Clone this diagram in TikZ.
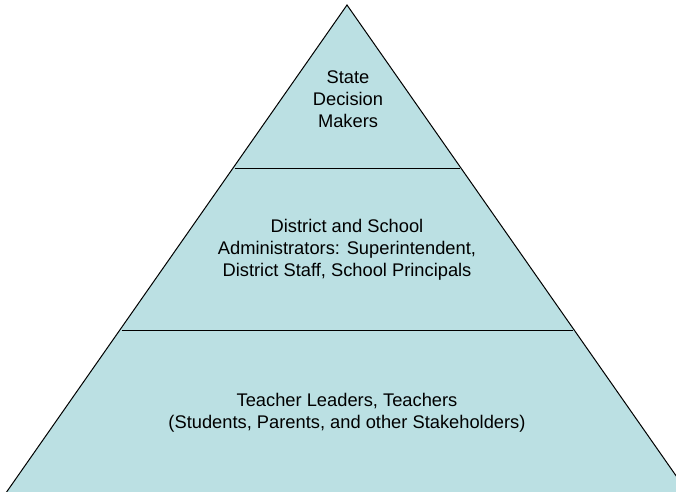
\documentclass[tikz,border=0pt]{standalone}
\usepackage{fontspec}
\setmainfont{Liberation Sans}
\definecolor{pyrfill}{HTML}{BBE0E3}
\begin{document}
\begin{tikzpicture}[x=1pt,y=-1pt,
  lbl/.style={align=center,font=\fontsize{18.3}{22}\selectfont,inner sep=0pt},
  edge/.style={draw=black,line width=1pt}]
\useasboundingbox (0,0) rectangle (676,491);
\clip (0,0) rectangle (676,491);
\coordinate (apex) at (347,5);
\coordinate (bl) at (4.5,495);
\coordinate (br) at (689.5,495);
\coordinate (l1) at (234.5,168);
\coordinate (r1) at (459.5,168);
\coordinate (l2) at (121.5,330);
\coordinate (r2) at (572.5,330);
\fill[pyrfill] (apex) -- (br) -- (bl) -- cycle;
\draw[edge] (bl) -- (apex) -- (br);
\draw[edge] (l1) -- (r1);
\draw[edge] (l2) -- (r2);
\node[lbl] (top) at (348,99) {State\\Decision\\Makers};
\node[lbl] (mid) at (347,250) {District and School\\Administrators: Superintendent,\\District Staff, School Principals};
\node[lbl] (bot) at (347,413) {Teacher Leaders, Teachers\\(Students, Parents, and other Stakeholders)};
\end{tikzpicture}
\end{document}
